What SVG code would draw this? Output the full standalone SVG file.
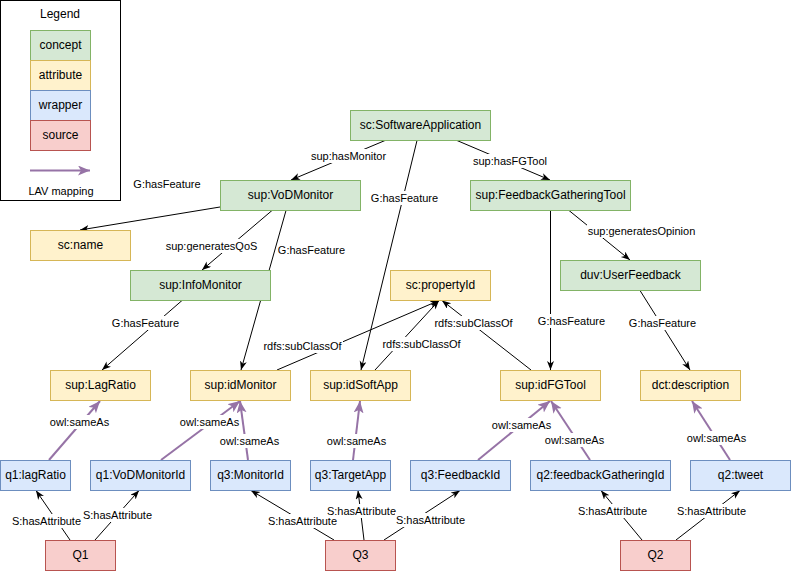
<svg xmlns="http://www.w3.org/2000/svg" width="791" height="571" viewBox="0 0 791 571">
<style>
text{font-family:"Liberation Sans",Arial,sans-serif;fill:#000}
.n{font-size:12px;text-anchor:middle}
.l{font-size:11px;text-anchor:middle}
.c{fill:#d5e8d4;stroke:#82b366}
.a{fill:#fff2cc;stroke:#d6b656}
.w{fill:#dae8fc;stroke:#6c8ebf}
.s{fill:#f8cecc;stroke:#b85450}
.e{stroke:#000;stroke-width:1;fill:none;marker-end:url(#ab)}
.p{stroke:#9673a6;stroke-width:2;fill:none;marker-end:url(#ap)}
.bg{fill:#fff}
</style>
<defs>
<marker id="ab" markerUnits="userSpaceOnUse" markerWidth="10" markerHeight="8" refX="9" refY="3.5" orient="auto"><path d="M0,0 L9,3.5 L0,7 L2.5,3.5 Z" fill="#000"/></marker>
<marker id="ap" markerUnits="userSpaceOnUse" markerWidth="13" markerHeight="11" refX="12" refY="5" orient="auto"><path d="M0,0 L12,5 L0,10 L3,5 Z" fill="#9673a6"/></marker>
</defs>
<rect width="791" height="571" fill="#fff"/>
<g id="legend">
<rect x="0.5" y="0.5" width="120" height="200" fill="#fff" stroke="#000"/>
<text class="n" x="60" y="18">Legend</text>
<rect class="c" x="30.5" y="30.5" width="60" height="30"/><text class="n" x="60.5" y="49">concept</text>
<rect class="a" x="30.5" y="60.5" width="60" height="30"/><text class="n" x="60.5" y="79">attribute</text>
<rect class="w" x="30.5" y="90.5" width="60" height="30"/><text class="n" x="60.5" y="109">wrapper</text>
<rect class="s" x="30.5" y="120.5" width="60" height="30"/><text class="n" x="60.5" y="139">source</text>
<line class="p" x1="30" y1="170.5" x2="90" y2="170.5"/>
<text class="l" x="61" y="195">LAV mapping</text>
</g>
<g id="connectors">
<line class="e" x1="385" y1="140.5" x2="291" y2="180"/>
<line class="e" x1="457" y1="140.5" x2="550" y2="180"/>
<line class="e" x1="417" y1="140.5" x2="361" y2="370"/>
<line class="e" x1="220" y1="207" x2="80" y2="230"/>
<line class="e" x1="272" y1="210.5" x2="202" y2="270"/>
<line class="e" x1="286" y1="210.5" x2="241" y2="370"/>
<line class="e" x1="182" y1="300.5" x2="102" y2="370"/>
<line class="e" x1="550.5" y1="210.5" x2="550.5" y2="370"/>
<line class="e" x1="569" y1="210.5" x2="630" y2="260"/>
<line class="e" x1="640" y1="290.5" x2="690" y2="370"/>
<line class="e" x1="277" y1="370" x2="439" y2="300.5"/>
<line class="e" x1="375" y1="370" x2="439" y2="300.5"/>
<line class="e" x1="531" y1="370" x2="442" y2="300.5"/>
<line class="p" x1="49" y1="460" x2="100" y2="401"/>
<line class="p" x1="161" y1="460" x2="240" y2="401"/>
<line class="p" x1="248" y1="460" x2="240" y2="401"/>
<line class="p" x1="353" y1="460" x2="360" y2="401"/>
<line class="p" x1="478" y1="460" x2="550" y2="401"/>
<line class="p" x1="590" y1="460" x2="551" y2="401"/>
<line class="p" x1="730" y1="460" x2="692" y2="401"/>
<line class="e" x1="70" y1="540" x2="36" y2="490.5"/>
<line class="e" x1="95" y1="540" x2="139" y2="490.5"/>
<line class="e" x1="334" y1="540" x2="251" y2="490.5"/>
<line class="e" x1="364" y1="540" x2="358" y2="490.5"/>
<line class="e" x1="384" y1="540" x2="460" y2="490.5"/>
<line class="e" x1="642" y1="540" x2="601" y2="490.5"/>
<line class="e" x1="676" y1="540" x2="740" y2="490.5"/>
<g id="labels">
<rect class="bg" x="310" y="149" width="77" height="14"/><text class="l" x="348.5" y="160">sup:hasMonitor</text>
<rect class="bg" x="472" y="154" width="76" height="14"/><text class="l" x="510" y="165">sup:hasFGTool</text>
<rect class="bg" x="370" y="191" width="69" height="14"/><text class="l" x="404.5" y="202">G:hasFeature</text>
<text class="l" x="167" y="188">G:hasFeature</text>
<rect class="bg" x="165" y="239" width="93" height="14"/><text class="l" x="211.5" y="250">sup:generatesQoS</text>
<text class="l" x="311.5" y="254">G:hasFeature</text>
<rect class="bg" x="587" y="224" width="109" height="14"/><text class="l" x="641.5" y="235">sup:generatesOpinion</text>
<rect class="bg" x="111" y="316" width="69" height="14"/><text class="l" x="145.5" y="327">G:hasFeature</text>
<rect class="bg" x="262" y="339" width="81" height="14"/><text class="l" x="302.5" y="350">rdfs:subClassOf</text>
<rect class="bg" x="381" y="337" width="81" height="14"/><text class="l" x="421.5" y="348">rdfs:subClassOf</text>
<rect class="bg" x="433" y="316" width="81" height="14"/><text class="l" x="473.5" y="327">rdfs:subClassOf</text>
<rect class="bg" x="537" y="314" width="69" height="14"/><text class="l" x="571.5" y="325">G:hasFeature</text>
<rect class="bg" x="628" y="316" width="69" height="14"/><text class="l" x="662.5" y="327">G:hasFeature</text>
<rect class="bg" x="49" y="415" width="61" height="14"/><text class="l" x="79.5" y="426">owl:sameAs</text>
<rect class="bg" x="179" y="415" width="61" height="14"/><text class="l" x="209.5" y="426">owl:sameAs</text>
<rect class="bg" x="219" y="434" width="61" height="14"/><text class="l" x="249.5" y="445">owl:sameAs</text>
<rect class="bg" x="326" y="434" width="61" height="14"/><text class="l" x="356.5" y="445">owl:sameAs</text>
<rect class="bg" x="491" y="418" width="61" height="14"/><text class="l" x="521.5" y="429">owl:sameAs</text>
<rect class="bg" x="544" y="433" width="61" height="14"/><text class="l" x="574.5" y="444">owl:sameAs</text>
<rect class="bg" x="686" y="431" width="61" height="14"/><text class="l" x="716.5" y="442">owl:sameAs</text>
<rect class="bg" x="11" y="514" width="71" height="14"/><text class="l" x="46.5" y="525">S:hasAttribute</text>
<rect class="bg" x="82" y="508" width="71" height="14"/><text class="l" x="117.5" y="519">S:hasAttribute</text>
<rect class="bg" x="267" y="514" width="71" height="14"/><text class="l" x="302.5" y="525">S:hasAttribute</text>
<rect class="bg" x="326" y="504" width="71" height="14"/><text class="l" x="361.5" y="515">S:hasAttribute</text>
<rect class="bg" x="395" y="513" width="71" height="14"/><text class="l" x="430.5" y="524">S:hasAttribute</text>
<rect class="bg" x="577" y="504" width="71" height="14"/><text class="l" x="612.5" y="515">S:hasAttribute</text>
<rect class="bg" x="676" y="504" width="71" height="14"/><text class="l" x="711.5" y="515">S:hasAttribute</text>
</g>
</g>
<g id="n-softwareapp"><rect class="c" x="350.5" y="110.5" width="140" height="30"/><text class="n" x="420.5" y="129">sc:SoftwareApplication</text></g>
<g id="n-vodmonitor"><rect class="c" x="220.5" y="180.5" width="140" height="30"/><text class="n" x="290.5" y="199">sup:VoDMonitor</text></g>
<g id="n-fgtool"><rect class="c" x="470.5" y="180.5" width="160" height="30"/><text class="n" x="550.5" y="199">sup:FeedbackGatheringTool</text></g>
<g id="n-scname"><rect class="a" x="30.5" y="230.5" width="100" height="30"/><text class="n" x="80.5" y="249">sc:name</text></g>
<g id="n-infomonitor"><rect class="c" x="130.5" y="270.5" width="140" height="30"/><text class="n" x="200.5" y="289">sup:InfoMonitor</text></g>
<g id="n-propertyid"><rect class="a" x="390.5" y="270.5" width="100" height="30"/><text class="n" x="440.5" y="289">sc:propertyId</text></g>
<g id="n-userfeedback"><rect class="c" x="560.5" y="260.5" width="140" height="30"/><text class="n" x="630.5" y="279">duv:UserFeedback</text></g>
<g id="n-lagratio"><rect class="a" x="50.5" y="370.5" width="100" height="30"/><text class="n" x="100.5" y="389">sup:LagRatio</text></g>
<g id="n-idmonitor"><rect class="a" x="190.5" y="370.5" width="100" height="30"/><text class="n" x="240.5" y="389">sup:idMonitor</text></g>
<g id="n-idsoftapp"><rect class="a" x="310.5" y="370.5" width="100" height="30"/><text class="n" x="360.5" y="389">sup:idSoftApp</text></g>
<g id="n-idfgtool"><rect class="a" x="500.5" y="370.5" width="100" height="30"/><text class="n" x="550.5" y="389">sup:idFGTool</text></g>
<g id="n-description"><rect class="a" x="640.5" y="370.5" width="100" height="30"/><text class="n" x="690.5" y="389">dct:description</text></g>
<g id="n-q1lagratio"><rect class="w" x="0.5" y="460.5" width="70" height="30"/><text class="n" x="35.5" y="479">q1:lagRatio</text></g>
<g id="n-q1vodmonitorid"><rect class="w" x="90.5" y="460.5" width="100" height="30"/><text class="n" x="140.5" y="479">q1:VoDMonitorId</text></g>
<g id="n-q3monitorid"><rect class="w" x="210.5" y="460.5" width="80" height="30"/><text class="n" x="250.5" y="479">q3:MonitorId</text></g>
<g id="n-q3targetapp"><rect class="w" x="310.5" y="460.5" width="80" height="30"/><text class="n" x="350.5" y="479">q3:TargetApp</text></g>
<g id="n-q3feedbackid"><rect class="w" x="410.5" y="460.5" width="100" height="30"/><text class="n" x="460.5" y="479">q3:FeedbackId</text></g>
<g id="n-q2fgid"><rect class="w" x="530.5" y="460.5" width="140" height="30"/><text class="n" x="600.5" y="479">q2:feedbackGatheringId</text></g>
<g id="n-q2tweet"><rect class="w" x="690.5" y="460.5" width="100" height="30"/><text class="n" x="740.5" y="479">q2:tweet</text></g>
<g id="n-q1"><rect class="s" x="45.5" y="540.5" width="70" height="30"/><text class="n" x="80.5" y="559">Q1</text></g>
<g id="n-q3"><rect class="s" x="325.5" y="540.5" width="70" height="30"/><text class="n" x="360.5" y="559">Q3</text></g>
<g id="n-q2"><rect class="s" x="620.5" y="540.5" width="70" height="30"/><text class="n" x="655.5" y="559">Q2</text></g>
</svg>
